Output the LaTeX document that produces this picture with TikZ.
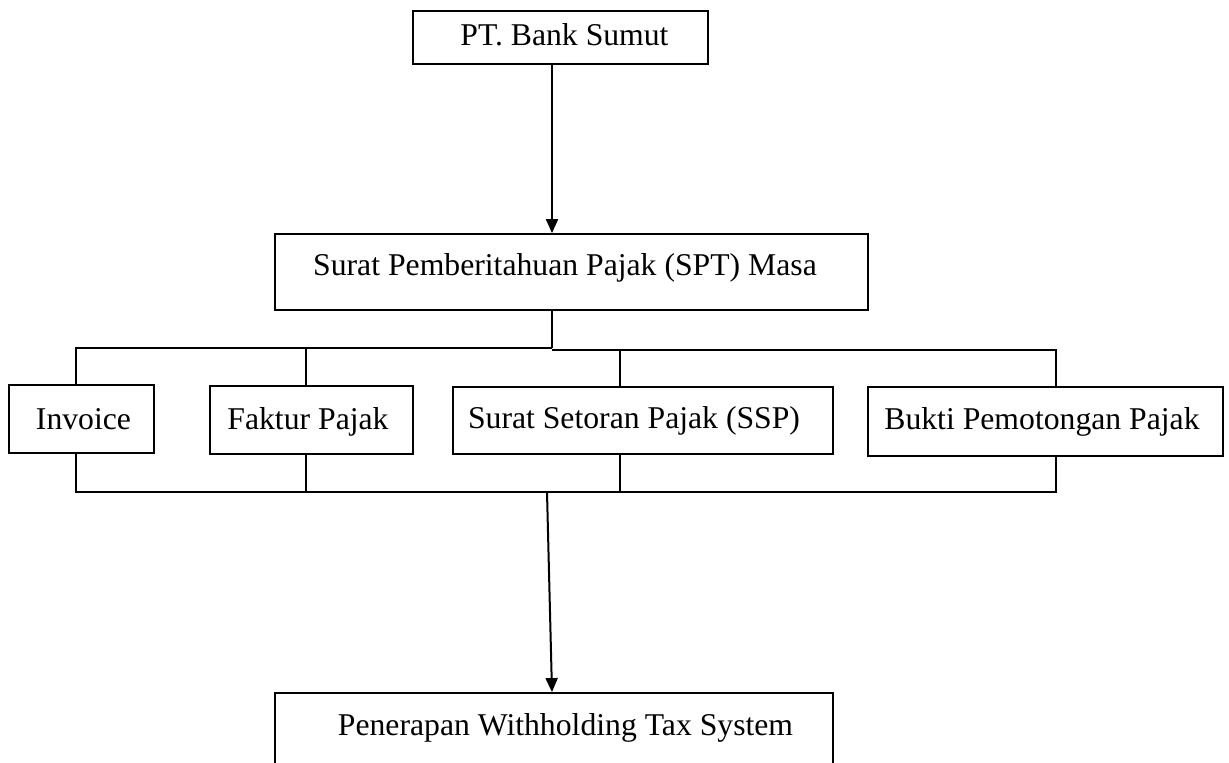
\documentclass[tikz,border=0pt]{standalone}
\usepackage{fontspec}
\setmainfont{Liberation Serif}
\usetikzlibrary{arrows.meta}
\begin{document}
\begin{tikzpicture}[x=1pt,y=-1pt,
  box/.style={draw, line width=1.8pt, inner sep=0pt},
  txt/.style={inner sep=0pt, font=\fontsize{31.7}{38}\selectfont},
  conn/.style={line width=2pt},
  arr/.style={line width=2pt, -{Triangle[length=14pt,width=12pt]}}]
\clip (0,0) rectangle (1229,763);
% boxes
\node[box, minimum width=295pt, minimum height=53pt] (pt) at (560.5,37.5) {};
\node[box, minimum width=593pt, minimum height=76pt] (spt) at (571.5,272) {};
\node[box, minimum width=145pt, minimum height=68pt] (inv) at (81.5,419) {};
\node[box, minimum width=203pt, minimum height=68pt] (fak) at (311.5,420) {};
\node[box, minimum width=380pt, minimum height=67pt] (ssp) at (643,420.5) {};
\node[box, minimum width=355pt, minimum height=69pt] (buk) at (1045.5,421.5) {};
\node[box, minimum width=558pt, minimum height=97pt] (pen) at (554,741.5) {};
% texts
\node[txt, anchor=base] (ptT) at (564.5,45) {PT. Bank Sumut};
\node[txt, anchor=base] (sptT) at (565,275) {Surat Pemberitahuan Pajak (SPT) Masa};
\node[txt, anchor=base] (invT) at (83.5,429) {Invoice};
\node[txt, anchor=base] (fakT) at (308,429) {Faktur Pajak};
\node[txt, anchor=base] (sspT) at (634,428.5) {Surat Setoran Pajak (SSP)};
\node[txt, anchor=base] (bukT) at (1042,429) {Bukti Pemotongan Pajak};
\node[txt, anchor=base] (penT) at (565.5,735) {Penerapan Withholding Tax System};
% junction coordinates
\coordinate (cx) at (552,0);
\coordinate (tInv) at (76,348);
\coordinate (tFak) at (306,348);
\coordinate (tMid) at (552,348);
\coordinate (tMid2) at (552,350);
\coordinate (tSsp) at (620,350);
\coordinate (tBuk) at (1056,350);
\coordinate (bInv) at (76,492);
\coordinate (bFak) at (306,492);
\coordinate (bSsp) at (620,492);
\coordinate (bBuk) at (1056,492);
\coordinate (bMid) at (547,492);
% connectors
\draw[arr] (cx |- pt.south) -- (cx |- spt.north);
\draw[conn] (spt.south -| tMid) -- (tMid);
\draw[conn] (inv.north -| tInv) -- (tInv) -- (tMid);
\draw[conn] (tMid2) -- (tBuk) -- (buk.north -| tBuk);
\draw[conn] (tFak) -- (fak.north -| tFak);
\draw[conn] (tSsp) -- (ssp.north -| tSsp);
\draw[conn] (inv.south -| bInv) -- (bInv) -- (bBuk) -- (buk.south -| bBuk);
\draw[conn] (fak.south -| bFak) -- (bFak);
\draw[conn] (ssp.south -| bSsp) -- (bSsp);
\draw[arr] (bMid) -- (cx |- pen.north);
\end{tikzpicture}
\end{document}
